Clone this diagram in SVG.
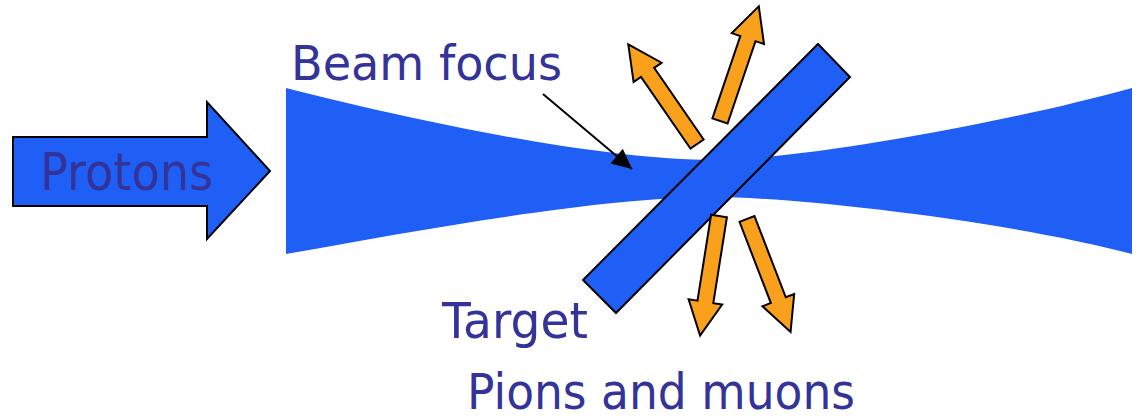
<svg xmlns="http://www.w3.org/2000/svg" xmlns:xlink="http://www.w3.org/1999/xlink" width="1141" height="418" viewBox="0 0 1141 418">
  <style>
    .lbl { font-family: "DejaVu Sans", "Liberation Sans", sans-serif; fill: #333399; }
    .blue { fill: #1F5FF6; }
    .orange { fill: #F9A01D; stroke: #000; stroke-width: 2; stroke-linejoin: miter; }
  </style>
  <defs>
    <path id="ray" d="M0,-8 H87 V-17 L121,0 L87,17 V8 H0 Z"/>
    <marker id="head" viewBox="0 0 10 10" refX="10" refY="5" markerWidth="10" markerHeight="10" markerUnits="userSpaceOnUse" orient="auto" overflow="visible">
      <path d="M-10,-4.5 L10,5 L-10,14.5 Z" fill="#000"/>
    </marker>
  </defs>
  <rect width="1141" height="418" fill="#fff"/>

  <g id="beam">
    <path class="blue" d="M286,88 C420,122 600,160 715,160 C800,160 1010,122 1132,88 L1132,254 C1005,220 790,197 715,197 C600,197 420,230 286,254 Z"/>
  </g>

  <g id="protons">
    <path class="blue" d="M13,137 H207 V102 L270,171 L207,239 V206 H13 Z" stroke="#000" stroke-width="2" stroke-linejoin="miter"/>
    <text class="lbl" x="40" y="190" font-size="52" textLength="173" lengthAdjust="spacingAndGlyphs">Protons</text>
  </g>

  <g id="target">
    <polygon class="blue" points="818,44 850,77 616,313 583,280" stroke="#000" stroke-width="2"/>
    <text class="lbl" x="442" y="338" font-size="50" textLength="146" lengthAdjust="spacingAndGlyphs">Target</text>
  </g>

  <g id="pions">
    <use xlink:href="#ray" class="orange" transform="translate(697,144) rotate(-124.6)"/>
    <use xlink:href="#ray" class="orange" transform="translate(720,121) rotate(-71.3)"/>
    <use xlink:href="#ray" class="orange" transform="translate(719,216) rotate(99)"/>
    <use xlink:href="#ray" class="orange" transform="translate(747,219) rotate(68.9)"/>
    <text class="lbl" x="467" y="409" font-size="49" textLength="388" lengthAdjust="spacingAndGlyphs">Pions and muons</text>
  </g>

  <g id="beam-focus">
    <text class="lbl" x="291" y="80" font-size="48" textLength="271" lengthAdjust="spacingAndGlyphs">Beam focus</text>
  </g>

  <g id="connectors">
    <line x1="543" y1="94" x2="632" y2="169" stroke="#000" stroke-width="2" marker-end="url(#head)"/>
  </g>
</svg>
